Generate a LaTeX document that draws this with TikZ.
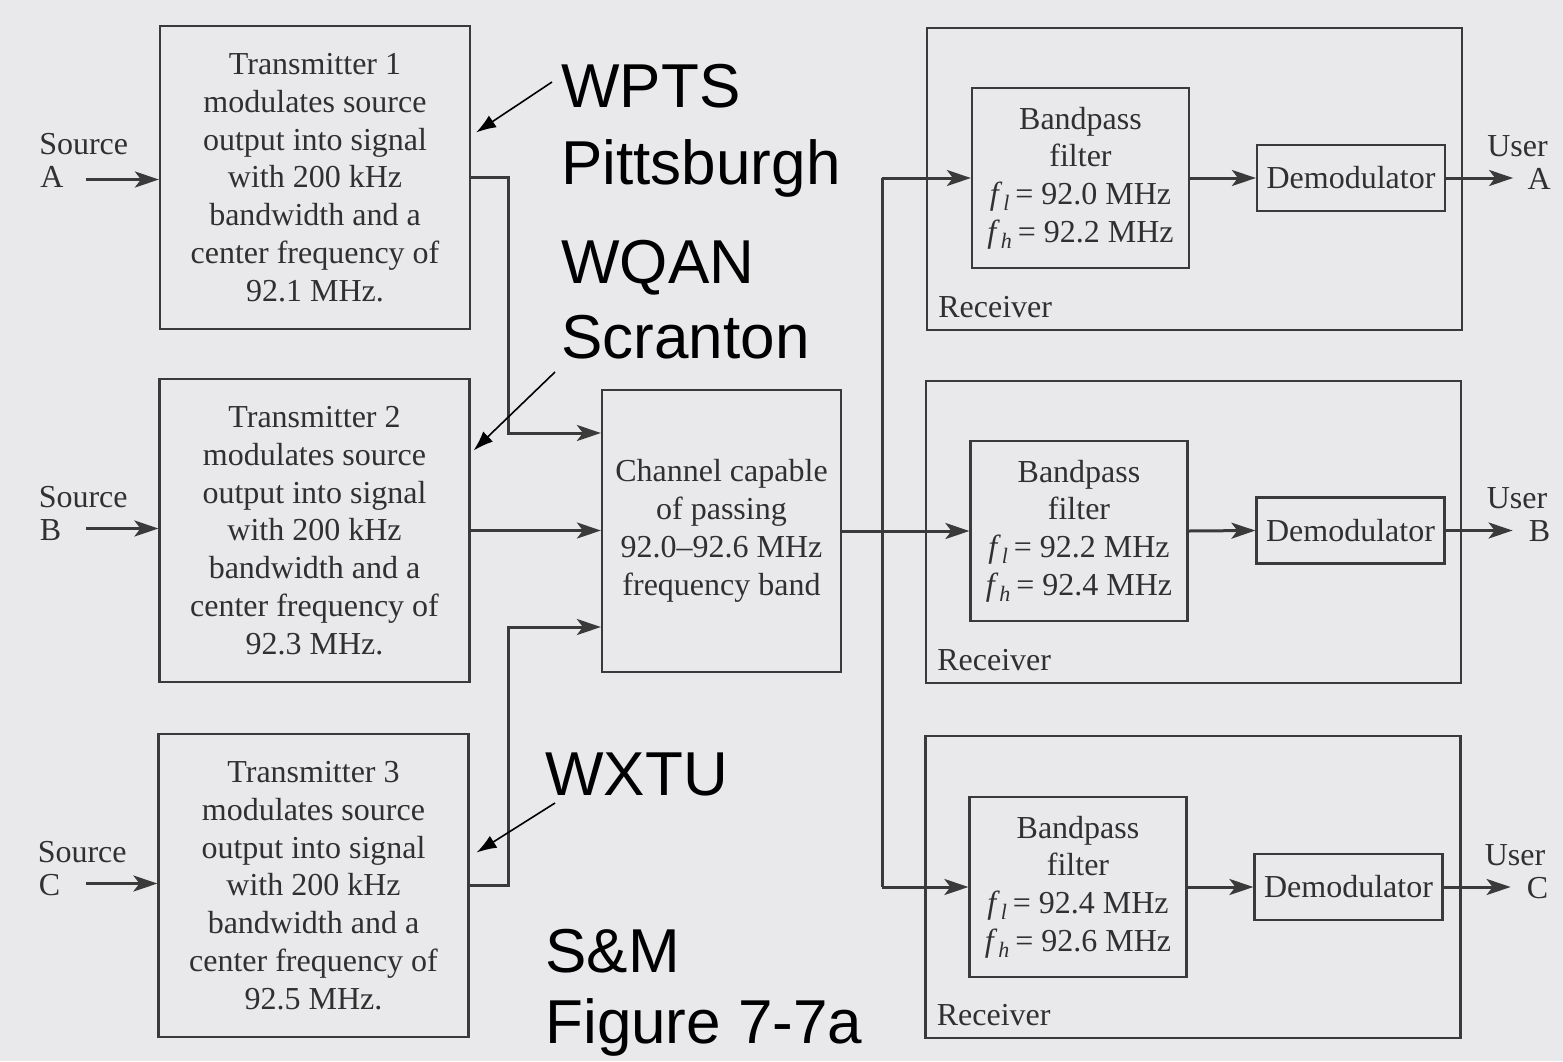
\documentclass[tikz,border=0pt]{standalone}
\usepackage{fontspec}
\setmainfont{Liberation Serif}
\newfontfamily\labfont{Liberation Sans}
\usetikzlibrary{arrows.meta}
\definecolor{bg}{RGB}{233,233,236}
\definecolor{ink}{RGB}{48,48,48}
\definecolor{wirec}{RGB}{58,58,58}
\newcommand{\fsb}[1]{\textit{f}\kern0.03em\raisebox{-0.4ex}{\fontsize{11}{11}\selectfont\itshape #1}\kern0.18em}
\begin{document}
\begin{tikzpicture}[x=0.5pt,y=-0.5pt,
  box/.style={draw=wirec,line width=1.1pt,text=ink,align=center,inner sep=0pt,font=\fontsize{16}{18.9}\selectfont},
  txbox/.style={box,minimum width=155pt,minimum height=151.5pt},
  chbox/.style={box,minimum width=119.5pt,minimum height=141pt},
  rxbox/.style={box,minimum width=267.5pt,minimum height=151pt},
  bpbox/.style={box,minimum width=108.5pt,minimum height=90pt},
  dmbox/.style={box,minimum width=94pt,minimum height=33pt},
  conn/.style={draw=wirec,line width=1.5pt,-{Stealth[length=12pt,width=8pt,inset=3pt]}},
  busline/.style={draw=wirec,line width=1.5pt},
  note/.style={draw=black,line width=0.8pt,-{Latex[length=10pt,width=7pt]}},
  lab/.style={font=\labfont\fontsize{31}{31}\selectfont,text=black,inner sep=0pt,anchor=base west},
  txt/.style={text=ink,inner sep=0pt,font=\fontsize{16}{18.9}\selectfont}
]
\fill[bg] (0,0) rectangle (1563,1061);
\useasboundingbox (0,0) rectangle (1563,1061);

% transmitters
\node[txbox] (tx1) at (315,177.5) {Transmitter 1\\modulates source\\output into signal\\with 200 kHz\\bandwidth and a\\center frequency of\\92.1 MHz.};
\node[txbox] (tx2) at (314.5,530.5) {Transmitter 2\\modulates source\\output into signal\\with 200 kHz\\bandwidth and a\\center frequency of\\92.3 MHz.};
\node[txbox] (tx3) at (313.5,885.5) {Transmitter 3\\modulates source\\output into signal\\with 200 kHz\\bandwidth and a\\center frequency of\\92.5 MHz.};

% channel
\node[chbox] (ch) at (721.5,531) {Channel capable\\of passing\\92.0--92.6 MHz\\frequency band};

% receivers
\node[rxbox] (rx1) at (1194.5,179) {};
\node[rxbox] (rx2) at (1193.5,532) {};
\node[rxbox] (rx3) at (1193,887) {};
\node[txt,anchor=base west] (rl1) at ([shift={(12,-14)}]rx1.south west) {Receiver};
\node[txt,anchor=base west] (rl2) at ([shift={(12,-14)}]rx2.south west) {Receiver};
\node[txt,anchor=base west] (rl3) at ([shift={(12,-14)}]rx3.south west) {Receiver};

\node[bpbox] (bp1) at (1080.5,178) {Bandpass\\filter\\\fsb{l}= 92.0 MHz\\\fsb{h}= 92.2 MHz};
\node[bpbox] (bp2) at (1079,531) {Bandpass\\filter\\\fsb{l}= 92.2 MHz\\\fsb{h}= 92.4 MHz};
\node[bpbox] (bp3) at (1078,887) {Bandpass\\filter\\\fsb{l}= 92.4 MHz\\\fsb{h}= 92.6 MHz};

\node[dmbox] (dm1) at (1351,178) {Demodulator};
\node[dmbox] (dm2) at (1350.5,530.5) {Demodulator};
\node[dmbox] (dm3) at (1348.5,887) {Demodulator};

% sources
\node[txt,anchor=base west] (sa1) at ([shift={(-120,-23)}]tx1.west) {Source};
\node[txt,anchor=base west] (sa2) at ([shift={(-119,10)}]tx1.west) {A};
\node[txt,anchor=base west] (sb1) at ([shift={(-120,-23)}]tx2.west) {Source};
\node[txt,anchor=base west] (sb2) at ([shift={(-119,10)}]tx2.west) {B};
\node[txt,anchor=base west] (sc1) at ([shift={(-120,-23)}]tx3.west) {Source};
\node[txt,anchor=base west] (sc2) at ([shift={(-119,10)}]tx3.west) {C};
\coordinate (sa) at ([shift={(-73,2)}]tx1.west);
\coordinate (sb) at ([shift={(-72,-2)}]tx2.west);
\coordinate (sc) at ([shift={(-71,-2)}]tx3.west);
\draw[conn] (sa) -- (sa -| tx1.west);
\draw[conn] (sb) -- (sb -| tx2.west);
\draw[conn] (sc) -- (sc -| tx3.west);

% users
\node[txt,anchor=base east] (ua1) at ([shift={(102,-22)}]dm1.east) {User};
\node[txt,anchor=base east] (ua2) at ([shift={(105,11)}]dm1.east) {A};
\node[txt,anchor=base east] (ub1) at ([shift={(102,-22)}]dm2.east) {User};
\node[txt,anchor=base east] (ub2) at ([shift={(105,11)}]dm2.east) {B};
\node[txt,anchor=base east] (uc1) at ([shift={(102,-22)}]dm3.east) {User};
\node[txt,anchor=base east] (uc2) at ([shift={(105,11)}]dm3.east) {C};
\coordinate (ua) at ([shift={(67,0)}]dm1.east);
\coordinate (ub) at ([shift={(67,0)}]dm2.east);
\coordinate (uc) at ([shift={(67,0)}]dm3.east);
\draw[conn] (dm1.east) -- (ua);
\draw[conn] (dm2.east) -- (ub);
\draw[conn] (dm3.east) -- (uc);

% inside receivers
\draw[conn] (bp1.east) -- (dm1.west);
\draw[conn] (bp2.east) -- (dm2.west);
\draw[conn] (bp3.east) -- (dm3.west);

% transmitters to channel
\coordinate (jx) at (508,0);
\coordinate (ci1) at ([shift={(0,-98)}]ch.west);
\coordinate (ci3) at ([shift={(0,96)}]ch.west);
\draw[conn] (tx1.east) -- (tx1.east -| jx) -- (jx |- ci1) -- (ci1);
\draw[conn] (tx2.east) -- (tx2.east -| ch.west);
\draw[conn] (tx3.east) -- (tx3.east -| jx) -- (jx |- ci3) -- (ci3);

% channel to receivers
\coordinate (bx) at (882,0);
\draw[conn] (ch.east) -- (ch.east -| bp2.west);
\draw[busline] (bx |- bp1.west) -- (bx |- bp3.west);
\draw[conn] (bx |- bp1.west) -- (bp1.west);
\draw[conn] (bx |- bp3.west) -- (bp3.west);

% annotations
\node[lab] (wpts) at (561,107) {WPTS};
\node[lab] (pitt) at (561,184) {Pittsburgh};
\node[lab] (wqan) at (561,283) {WQAN};
\node[lab] (scr) at (561,358) {Scranton};
\node[lab] (wxtu) at (545,795) {WXTU};
\node[lab] (sm) at (545,972) {S\&M};
\node[lab] (fig) at (545,1043) {Figure 7-7a};
\coordinate (n1s) at ([shift={(-9,-25)}]wpts.base west);
\coordinate (n1e) at ([shift={(5,-45)}]tx1.east);
\coordinate (n2s) at ([shift={(-6,14)}]scr.base west);
\coordinate (n2e) at ([shift={(3,-80)}]tx2.east);
\coordinate (n3s) at ([shift={(10,8)}]wxtu.base west);
\coordinate (n3e) at ([shift={(7,-33)}]tx3.east);
\draw[note] (n1s) -- (n1e);
\draw[note] (n2s) -- (n2e);
\draw[note] (n3s) -- (n3e);
\end{tikzpicture}
\end{document}
